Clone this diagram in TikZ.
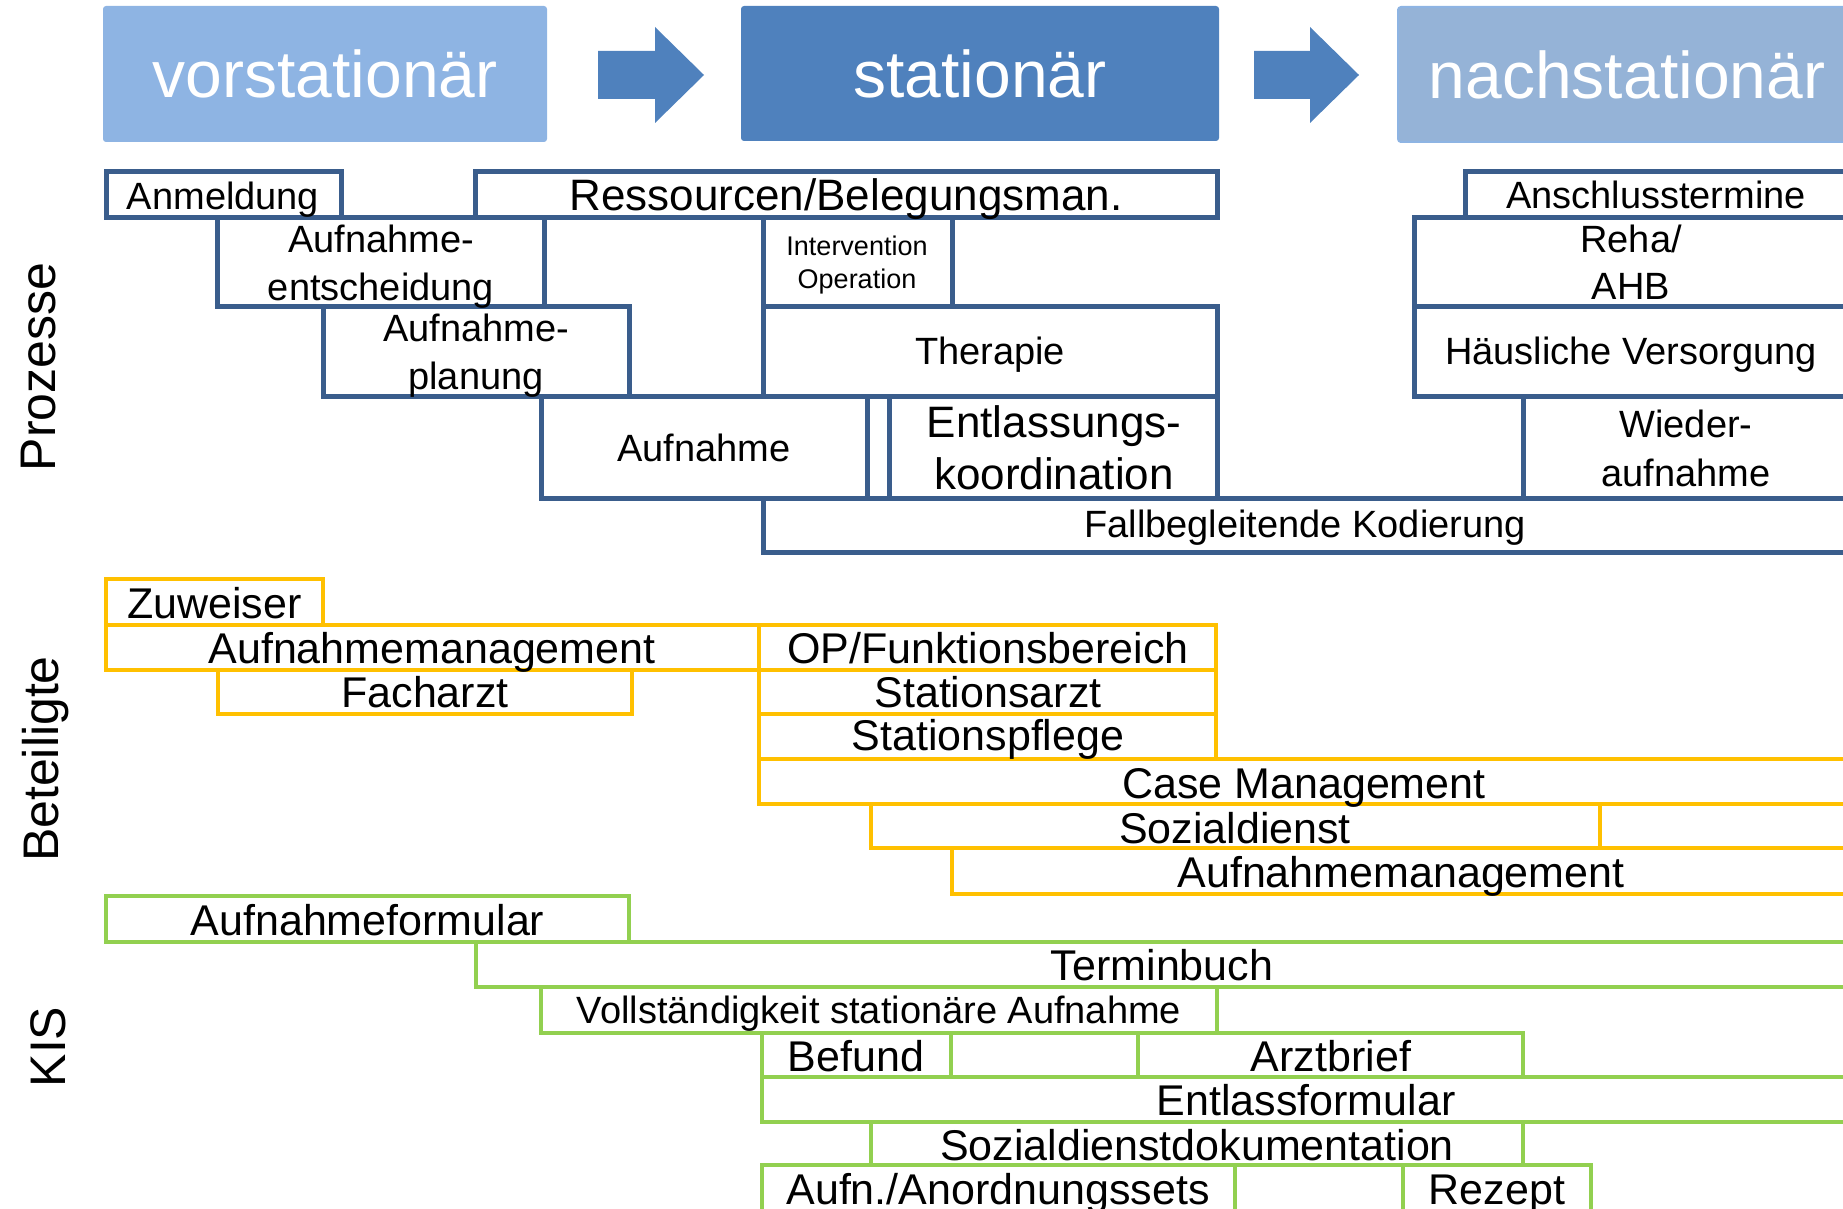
\documentclass[tikz,border=0pt]{standalone}
\usepackage{fontspec}
\setmainfont{Liberation Sans}
\definecolor{hdrlight}{HTML}{8EB4E3}
\definecolor{hdrmid}{HTML}{4F81BD}
\definecolor{hdrpale}{HTML}{95B3D7}
\definecolor{pblue}{HTML}{3A5D8C}
\definecolor{pyellow}{HTML}{FFC000}
\definecolor{pgreen}{HTML}{92D050}
\begin{document}
\begin{tikzpicture}[x=1pt,y=-1pt,
  bbox/.style={draw=pblue,line width=5pt},
  ybox/.style={draw=pyellow,line width=4.5pt},
  gbox/.style={draw=pgreen,line width=4.5pt},
  hdrtxt/.style={anchor=base,inner sep=0pt,text=white,font=\fontsize{66}{66}\selectfont},
  tbig/.style={anchor=base,inner sep=0pt,font=\fontsize{44}{44}\selectfont},
  tmid/.style={anchor=base,inner sep=0pt,font=\fontsize{38}{38}\selectfont},
  tyel/.style={anchor=base,inner sep=0pt,font=\fontsize{43}{43}\selectfont},
  tsmall/.style={anchor=base,inner sep=0pt,font=\fontsize{27}{27}\selectfont},
  side/.style={anchor=base,inner sep=0pt,rotate=90,font=\fontsize{50}{50}\selectfont}]
\useasboundingbox (0,0) rectangle (1843,1209);
\clip (0,0) rectangle (1843,1209);
% ---------- headers ----------
\fill[hdrlight,rounded corners=3pt] (103,6) rectangle (547,142);
\fill[hdrmid,rounded corners=3pt] (741,6) rectangle (1219,141);
\filldraw[fill=hdrpale,draw=hdrlight,line width=2pt,rounded corners=3pt] (1398,7) rectangle (1870,142);
\fill[hdrmid] (598,51) -- (655,51) -- (655,27) -- (704,75) -- (655,123) -- (655,99) -- (598,99) -- cycle;
\fill[hdrmid] (1254,51) -- (1310,51) -- (1310,27) -- (1359,75) -- (1310,123) -- (1310,99) -- (1254,99) -- cycle;
\node[hdrtxt] (hvor) at (325,98) {vorstationär};
\node[hdrtxt] (hsta) at (980,98) {stationär};
\node[hdrtxt] (hnach) at (1627,99) {nachstationär};
% ---------- Prozesse ----------
\draw[bbox] (106,172) rectangle (341,217);
\draw[bbox] (475,172) rectangle (1217,217);
\draw[bbox] (217,217) rectangle (544,306);
\draw[bbox] (323,306) rectangle (629,396);
\draw[bbox] (763,217) rectangle (952,306);
\draw[bbox] (763,306) rectangle (1217,396);
\draw[bbox] (541,396) rectangle (867,498);
\draw[bbox] (867,396) rectangle (889,498);
\draw[bbox] (889,396) rectangle (1217,498);
\draw[bbox] (763,498) rectangle (1870,552);
\draw[bbox] (1465,172) rectangle (1870,217);
\draw[bbox] (1414,217) rectangle (1870,306);
\draw[bbox] (1414,306) rectangle (1870,396);
\draw[bbox] (1523,396) rectangle (1870,498);
% ---------- Beteiligte ----------
\draw[ybox] (106,579) rectangle (323,625);
\draw[ybox] (106,625) rectangle (759,670);
\draw[ybox] (218,670) rectangle (632,714);
\draw[ybox] (759,625) rectangle (1216,670);
\draw[ybox] (759,670) rectangle (1216,714);
\draw[ybox] (759,714) rectangle (1216,759);
\draw[ybox] (759,759) rectangle (1870,804);
\draw[ybox] (871,804) rectangle (1600,848);
\draw[ybox] (1600,804) rectangle (1870,848);
\draw[ybox] (952,848) rectangle (1870,894);
% ---------- KIS ----------
\draw[gbox] (106,896) rectangle (629,942);
\draw[gbox] (476,942) rectangle (1870,987);
\draw[gbox] (541,987) rectangle (1217,1033);
\draw[gbox] (762,1033) rectangle (951,1077);
\draw[gbox] (951,1033) rectangle (1138,1077);
\draw[gbox] (1138,1033) rectangle (1523,1077);
\draw[gbox] (762,1077) rectangle (1870,1122);
\draw[gbox] (871,1122) rectangle (1523,1165);
\draw[gbox] (762,1165) rectangle (1235,1220);
\draw[gbox] (1403,1165) rectangle (1591,1220);
% ---------- texts: Prozesse ----------
\node[tmid] (anm) at (223,209) {Anmeldung};
\node[tbig] (res) at (846,211) {Ressourcen/Belegungsman.};
\node[tmid] (aea) at (381,252) {Aufnahme-};
\node[tmid] (aeb) at (381,300) {entscheidung};
\node[tmid] (apa) at (476,341) {Aufnahme-};
\node[tmid] (apb) at (476,389) {planung};
\node[tsmall] (inta) at (857,255) {Intervention};
\node[tsmall] (intb) at (857,288) {Operation};
\node[tmid] (ther) at (990,364) {Therapie};
\node[tmid] (aufn) at (704,461) {Aufnahme};
\node[tbig] (enta) at (1054,437) {Entlassungs-};
\node[tbig] (entb) at (1054,489) {koordination};
\node[tmid] (fall) at (1305,537) {Fallbegleitende Kodierung};
\node[tmid] (ansch) at (1656,208) {Anschlusstermine};
\node[tmid] (rehaa) at (1631,252) {Reha/};
\node[tmid] (rehab) at (1631,299) {AHB};
\node[tmid] (haus) at (1631,364) {Häusliche Versorgung};
\node[tmid] (wiea) at (1686,437) {Wieder-};
\node[tmid] (wieb) at (1686,486) {aufnahme};
% ---------- texts: Beteiligte ----------
\node[tyel] (zuw) at (214.5,618) {Zuweiser};
\node[tyel] (amg) at (432,663) {Aufnahmemanagement};
\node[tyel] (fach) at (425,707) {Facharzt};
\node[tyel] (opf) at (988,663) {OP/Funktionsbereich};
\node[tyel] (sarzt) at (988,707) {Stationsarzt};
\node[tyel] (spfl) at (988,750) {Stationspflege};
\node[tyel] (case) at (1304,798) {Case Management};
\node[tyel] (sozd) at (1235,843) {Sozialdienst};
\node[tyel] (amg2) at (1401,887) {Aufnahmemanagement};
% ---------- texts: KIS ----------
\node[tyel] (afor) at (367.5,935) {Aufnahmeformular};
\node[tyel] (term) at (1162,980) {Terminbuch};
\node[tmid] (voll) at (879,1023) {Vollständigkeit stationäre Aufnahme};
\node[tyel] (bef) at (856,1071) {Befund};
\node[tyel] (arzt) at (1331,1071) {Arztbrief};
\node[tyel] (entf) at (1306,1115) {Entlassformular};
\node[tyel] (sozdok) at (1197,1160) {Sozialdienstdokumentation};
\node[tyel] (anord) at (998,1204) {Aufn./Anordnungssets};
\node[tyel] (rez) at (1497,1204) {Rezept};
% ---------- side labels ----------
\node[side] (lproz) at (55,367) {Prozesse};
\node[side] (lbet) at (58,759) {Beteiligte};
\node[side] (lkis) at (65,1047) {KIS};
\end{tikzpicture}
\end{document}
